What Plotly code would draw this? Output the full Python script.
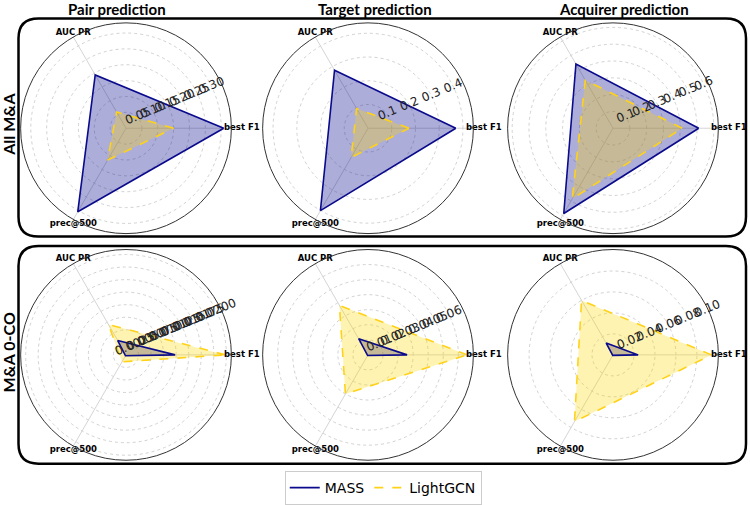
import plotly.graph_objects as go

# ---------------- data ----------------
categories = ["best F1", "AUC PR", "prec@500"]
col_titles = ["Pair prediction", "Target prediction", "Acquirer prediction"]
row_titles = ["All M&A", "M&A 0-CO"]
series_names = ["MASS", "LightGCN"]

# All M&A
mass_all_pair = [0.308, 0.194, 0.304]
lgcn_all_pair = [0.150, 0.059, 0.116]
mass_all_target = [0.370, 0.282, 0.401]
lgcn_all_target = [0.173, 0.096, 0.142]
mass_all_acq = [0.510, 0.441, 0.586]
lgcn_all_acq = [0.412, 0.330, 0.485]

# M&A 0-CO
mass_0co_pair = [0.0098, 0.0033, 0.0002]
lgcn_0co_pair = [0.0198, 0.0070, 0.0016]
mass_0co_target = [0.026, 0.0124, 0.0005]
lgcn_0co_target = [0.066, 0.038, 0.030]
mass_0co_acq = [0.024, 0.013, 0.0005]
lgcn_0co_acq = [0.094, 0.060, 0.0735]

# radial tick labels per panel
ticks_all_pair = [0.05, 0.10, 0.15, 0.20, 0.25, 0.30]
ticks_all_target = [0.1, 0.2, 0.3, 0.4]
ticks_all_acq = [0.1, 0.2, 0.3, 0.4, 0.5, 0.6]
ticks_0co_pair = [0.0025, 0.0050, 0.0075, 0.0100, 0.0125, 0.0150, 0.0175, 0.0200]
ticks_0co_target = [0.01, 0.02, 0.03, 0.04, 0.05, 0.06]
ticks_0co_acq = [0.02, 0.04, 0.06, 0.08, 0.10]

# ---------------- styling / layout ----------------
W, H = 750, 505
NAVY = "#0a0a8c"
GOLD = "#FFD21A"
MASS_FILL = "rgba(0,0,139,0.32)"
LGCN_FILL = "rgba(255,215,0,0.30)"

panels = [
    dict(mass=mass_all_pair, lgcn=lgcn_all_pair, ticks=ticks_all_pair, fmt="{:.2f}", rmax=0.332),
    dict(mass=mass_all_target, lgcn=lgcn_all_target, ticks=ticks_all_target, fmt="{:.1f}", rmax=0.444),
    dict(mass=mass_all_acq, lgcn=lgcn_all_acq, ticks=ticks_all_acq, fmt="{:.1f}", rmax=0.627),
    dict(mass=mass_0co_pair, lgcn=lgcn_0co_pair, ticks=ticks_0co_pair, fmt="{:.4f}", rmax=0.021),
    dict(mass=mass_0co_target, lgcn=lgcn_0co_target, ticks=ticks_0co_target, fmt="{:.2f}", rmax=0.070),
    dict(mass=mass_0co_acq, lgcn=lgcn_0co_acq, ticks=ticks_0co_acq, fmt="{:.2f}", rmax=0.1005),
]

centers_x = [126, 368, 613]
centers_y = [129, 357]
R = 106

fig = go.Figure()
layout_polars = {}
label_pos = ["middle right", "top center", "bottom center"]

for i, p in enumerate(panels):
    row, col = divmod(i, 3)
    sub = "polar" if i == 0 else f"polar{i+1}"
    cx, cy = centers_x[col], centers_y[row]
    dom_x = [(cx - R) / W, (cx + R) / W]
    dom_y = [1 - (cy + R) / H, 1 - (cy - R) / H]
    theta_closed = categories + [categories[0]]
    r_mass = p["mass"] + [p["mass"][0]]
    r_lgcn = p["lgcn"] + [p["lgcn"][0]]

    # filled areas (no outline)
    fig.add_trace(go.Scatterpolar(
        r=r_mass, theta=theta_closed, mode="lines", fill="toself", fillcolor=MASS_FILL,
        line=dict(color="rgba(0,0,0,0)", width=0), showlegend=False,
        subplot=sub, hoverinfo="skip"))
    fig.add_trace(go.Scatterpolar(
        r=r_lgcn, theta=theta_closed, mode="lines", fill="toself", fillcolor=LGCN_FILL,
        line=dict(color="rgba(0,0,0,0)", width=0), showlegend=False,
        subplot=sub, hoverinfo="skip"))
    # outlines (these carry the legend)
    fig.add_trace(go.Scatterpolar(
        r=r_mass, theta=theta_closed, mode="lines",
        line=dict(color=NAVY, width=1.6),
        name=series_names[0], legendgroup=series_names[0], showlegend=(i == 0),
        subplot=sub, hoverinfo="skip"))
    fig.add_trace(go.Scatterpolar(
        r=r_lgcn, theta=theta_closed, mode="lines",
        line=dict(color=GOLD, width=1.6, dash="dash"),
        name=series_names[1], legendgroup=series_names[1], showlegend=(i == 0),
        subplot=sub, hoverinfo="skip"))
    # angular category labels, placed via the polar scale at the outer radius
    fig.add_trace(go.Scatterpolar(
        r=[p["rmax"] * 0.93, p["rmax"], p["rmax"]], theta=categories, mode="text",
        text=categories, textposition=label_pos,
        textfont=dict(family="DejaVu Sans", size=8.5, color="black", weight="bold"),
        showlegend=False, subplot=sub, hoverinfo="skip", cliponaxis=False))

    layout_polars[sub] = dict(
        domain=dict(x=dom_x, y=dom_y),
        bgcolor="rgba(0,0,0,0)",
        radialaxis=dict(
            range=[0, p["rmax"]], tickvals=p["ticks"],
            ticktext=[p["fmt"].format(t) for t in p["ticks"]],
            angle=22.5, tickangle=0, side="counterclockwise",
            showline=False, ticks="",
            gridcolor="#d2d2d2", griddash="dot", gridwidth=0.8,
            tickfont=dict(family="DejaVu Sans", size=12, color="#222"),
            layer="above traces"),
        angularaxis=dict(
            type="category", rotation=0, direction="counterclockwise",
            showticklabels=False, ticks="", gridcolor="#d5d5d5", gridwidth=0.8,
            showline=True, linecolor="#333333", linewidth=1),
    )

fig.update_layout(**layout_polars)


def rounded_rect(x0, y0, x1, y1, r):
    def px(x):
        return x / W

    def py(y):
        return 1 - y / H
    pts = [
        f"M {px(x0 + r)} {py(y0)}",
        f"L {px(x1 - r)} {py(y0)}",
        f"Q {px(x1)} {py(y0)} {px(x1)} {py(y0 + r)}",
        f"L {px(x1)} {py(y1 - r)}",
        f"Q {px(x1)} {py(y1)} {px(x1 - r)} {py(y1)}",
        f"L {px(x0 + r)} {py(y1)}",
        f"Q {px(x0)} {py(y1)} {px(x0)} {py(y1 - r)}",
        f"L {px(x0)} {py(y0 + r)}",
        f"Q {px(x0)} {py(y0)} {px(x0 + r)} {py(y0)}",
        "Z",
    ]
    return " ".join(pts)


shapes = [
    dict(type="path", xref="paper", yref="paper", path=rounded_rect(18.5, 18.5, 746, 238, 20),
         line=dict(color="black", width=2.5), layer="below"),
    dict(type="path", xref="paper", yref="paper", path=rounded_rect(18.5, 247.5, 746, 466.5, 20),
         line=dict(color="black", width=2.5), layer="below"),
]

annotations = []
title_x = [117, 375, 624]
for t, x in zip(col_titles, title_x):
    annotations.append(dict(text=f"<b>{t}</b>", x=x / W, y=1 - 9.5 / H, xref="paper", yref="paper",
                            xanchor="center", yanchor="middle", showarrow=False,
                            font=dict(family="Lato", size=15, color="black")))
row_y = [125, 355]
for t, y in zip(row_titles, row_y):
    annotations.append(dict(text=f"<b>{t}</b>", x=8.5 / W, y=1 - y / H, xref="paper", yref="paper",
                            xanchor="center", yanchor="middle", showarrow=False, textangle=-90,
                            font=dict(family="Lato", size=16, color="black")))

fig.update_layout(
    width=W, height=H,
    margin=dict(l=0, r=0, t=0, b=0),
    paper_bgcolor="white", plot_bgcolor="white",
    shapes=shapes, annotations=annotations,
    showlegend=True,
    legend=dict(orientation="h", x=0.511, xanchor="center", y=1 - 491 / H, yanchor="middle",
                bordercolor="#cccccc", borderwidth=1, bgcolor="white",
                font=dict(family="DejaVu Sans", size=14, color="black"),
                itemwidth=30, tracegroupgap=0),
)

fig.write_html("out.html")
